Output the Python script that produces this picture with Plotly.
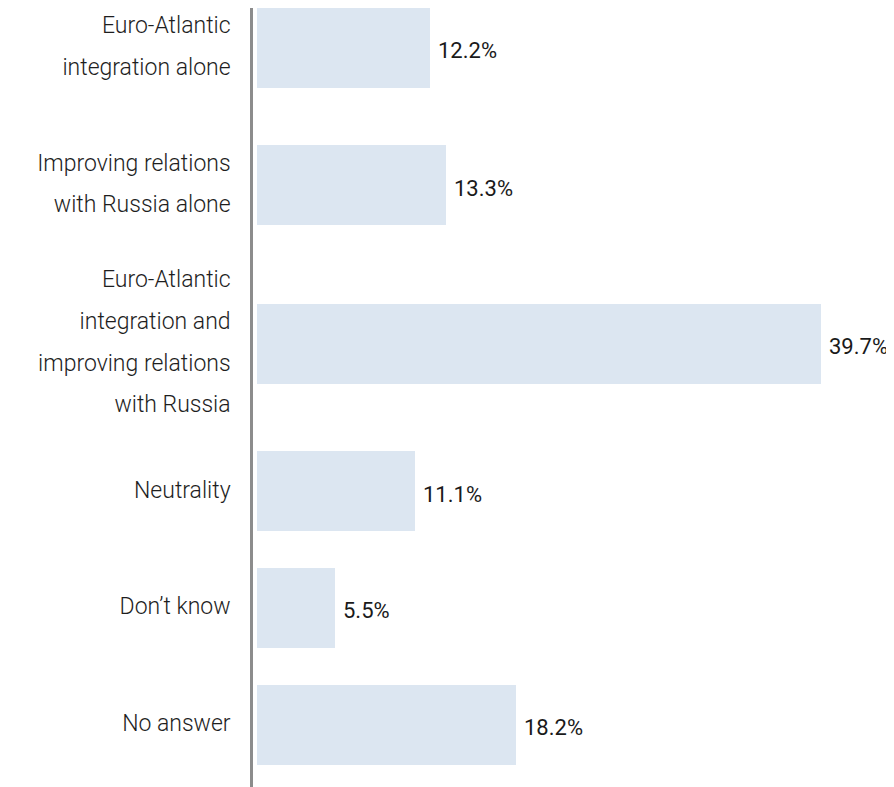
import plotly.graph_objects as go

CATEGORIES = [
    "Euro-Atlantic<br>integration alone",
    "Improving relations<br>with Russia alone",
    "Euro-Atlantic<br>integration and<br>improving relations<br>with Russia",
    "Neutrality",
    "Don’t know",
    "No answer",
]
VALUES = [12.2, 13.3, 39.7, 11.1, 5.5, 18.2]

BAR_COLOR = "#dce6f1"
AXIS_COLOR = "#8c8c8c"
LABEL_FONT = "Roboto, 'Open Sans', sans-serif"
VALUE_FONT = "Roboto, 'Liberation Sans Narrow', sans-serif"


def wrap_label(label: str, size: int = 23) -> str:
    # tick font is set larger than the visible text so <br> gets wider line spacing
    return "<br>".join(f'<span style="font-size:{size}px">{part}</span>' for part in label.split("<br>"))


# rows get taller with the number of lines in their label
n_lines = [c.count("<br>") + 1 for c in CATEGORIES]
row_h = [n + 4.6 for n in n_lines]
centres = []
acc = 0.0
for h in row_h:
    centres.append(acc + h / 2)
    acc += h
bar_w = 3.84

fig = go.Figure()
fig.add_trace(go.Bar(
    x=VALUES,
    y=centres,
    orientation="h",
    width=bar_w,
    marker=dict(color=BAR_COLOR, line=dict(width=0)),
    hoverinfo="skip",
))

for v, yc in zip(VALUES, centres):
    fig.add_annotation(
        x=v, y=yc, text=f"{v:.1f}%", showarrow=False,
        xanchor="left", yanchor="middle", xshift=6, yshift=-3,
        font=dict(family=VALUE_FONT, size=22, color="#1a1a1a"),
    )

fig.update_yaxes(
    tickvals=centres,
    ticktext=[wrap_label(c) for c in CATEGORIES],
    tickfont=dict(family=LABEL_FONT, size=32, color="#1e1e1e", weight=300),
    range=[acc + 0.2, centres[0] - bar_w / 2],
    showline=True, linecolor=AXIS_COLOR, linewidth=3,
    showgrid=False, zeroline=False, ticks="",
    ticklabelstandoff=13, ticklabelshift=5, automargin=False,
)
fig.update_xaxes(visible=False, range=[-0.28, 44.8], showgrid=False, zeroline=False, automargin=False)
# the page adds an 8px body margin, so the figure is 8px smaller than the window
fig.update_layout(
    width=886, height=779,
    margin=dict(l=245, r=0, t=0, b=0),
    plot_bgcolor="white", paper_bgcolor="white",
    showlegend=False, bargap=0,
)

fig.write_html("out.html")
